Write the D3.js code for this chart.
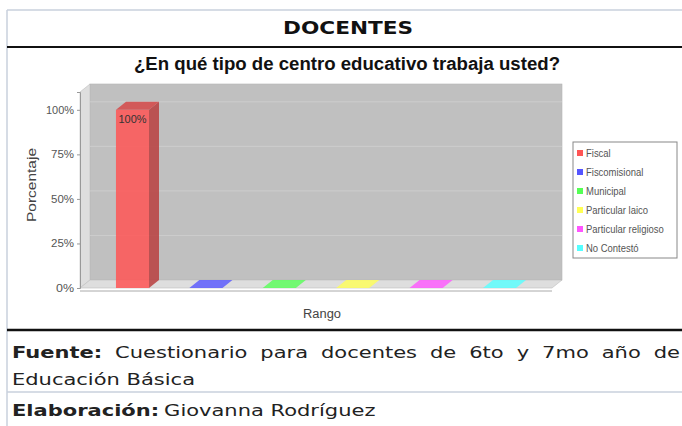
<!DOCTYPE html>
<html>
<head>
<meta charset="utf-8">
<script src="https://d3js.org/d3.v7.min.js"></script>
<style>
  body { margin: 0; background: #fff; }
  svg { display: block; }
</style>
</head>
<body>
<script>
const categories = ["Fiscal", "Fiscomisional", "Municipal", "Particular laico", "Particular religioso", "No Contestó"]
const values = [1, 0, 0, 0, 0, 0]
const colors = ["#ff5555", "#5555ff", "#55ff55", "#ffff55", "#ff55ff", "#55ffff"]
const yTicks = [0, 0.25, 0.5, 0.75, 1]
const fuenteWords = ["Cuestionario", "para", "docentes", "de", "6to", "y", "7mo", "año", "de"]

const width = 682
const height = 426
const dx = 10, dy = 8
const sans = "'Liberation Sans', Arial, sans-serif"
const foot = "'DejaVu Sans', sans-serif"

const svg = d3.select("body").append("svg")
    .attr("width", width)
    .attr("height", height)

// squeeze or stretch a text to a given width
function fit(t, w) {
    t.attr("textLength", w).attr("lengthAdjust", "spacingAndGlyphs")
}

// table frame
svg.append("line").attr("x1", 7).attr("x2", width).attr("y1", 10).attr("y2", 10)
    .attr("stroke", "#c8d0dc").attr("stroke-width", 1.5)
svg.append("line").attr("x1", 7).attr("x2", 7).attr("y1", 10).attr("y2", height)
    .attr("stroke", "#c8d0dc").attr("stroke-width", 1.5)

svg.append("text")
    .attr("x", 348).attr("y", 34)
    .attr("text-anchor", "middle")
    .attr("font-family", foot)
    .attr("font-weight", "bold")
    .attr("font-size", 18)
    .attr("fill", "#111")
    .text("DOCENTES")
    .call(fit, 130)

svg.append("line").attr("x1", 7).attr("x2", width).attr("y1", 47).attr("y2", 47)
    .attr("stroke", "#111").attr("stroke-width", 2)

// chart title
svg.append("text")
    .attr("x", 347).attr("y", 70)
    .attr("text-anchor", "middle")
    .attr("font-family", sans)
    .attr("font-weight", "bold")
    .attr("font-size", 18)
    .attr("fill", "#111")
    .text("¿En qué tipo de centro educativo trabaja usted?")
    .call(fit, 426)

// scales
const x = d3.scaleBand()
    .domain(categories)
    .range([80, 552])
    .paddingInner(0.55)
    .paddingOuter(0.49)

const y = d3.scaleLinear()
    .domain([0, 1.1])
    .range([288, 92])

const x0 = 80, x1 = 552, y0 = y(0), yTop = y(1.1)

// walls
svg.append("rect")
    .attr("x", x0 + dx).attr("y", yTop - dy)
    .attr("width", x1 - x0).attr("height", y0 - yTop)
    .attr("fill", "#c0c0c0")
    .attr("stroke", "#b4b4b4").attr("stroke-width", 0.6)

svg.append("polygon")
    .attr("points", [[x0, y0], [x0, yTop], [x0 + dx, yTop - dy], [x0 + dx, y0 - dy]].join(" "))
    .attr("fill", "#dedede")
    .attr("stroke", "#bdbdbd").attr("stroke-width", 0.6)

svg.append("polygon")
    .attr("points", [[x0, y0], [x1, y0], [x1 + dx, y0 - dy], [x0 + dx, y0 - dy]].join(" "))
    .attr("fill", "#dedede")
    .attr("stroke", "#bdbdbd").attr("stroke-width", 0.6)

// gridlines on back wall
svg.append("g").selectAll("line")
    .data(yTicks.filter(d => d > 0))
    .join("line")
    .attr("x1", x0 + dx).attr("x2", x1 + dx)
    .attr("y1", d => y(d) - dy).attr("y2", d => y(d) - dy)
    .attr("stroke", "#d0d0d0").attr("stroke-width", 0.8)

// y axis
const yAxis = svg.append("g")
    .attr("transform", `translate(${x0},0)`)
    .call(d3.axisLeft(y).tickValues(yTicks).tickFormat(d3.format(".0%")).tickSize(3).tickPadding(3))
yAxis.select(".domain").attr("stroke", "#999")
yAxis.selectAll(".tick line").attr("stroke", "#999")
yAxis.selectAll("text")
    .attr("font-family", sans)
    .attr("font-size", 11)
    .attr("fill", "#555")
    .each(function (d) { d3.select(this).call(fit, d === 1 ? 28 : (d === 0 ? 18 : 23)) })

svg.append("text")
    .attr("transform", `translate(36,${185}) rotate(-90)`)
    .attr("text-anchor", "middle")
    .attr("font-family", sans)
    .attr("font-size", 13)
    .attr("fill", "#444")
    .text("Porcentaje")
    .call(fit, 74)

// x axis line
svg.append("line").attr("x1", x0).attr("x2", x1).attr("y1", y0 + 3).attr("y2", y0 + 3)
    .attr("stroke", "#aaa").attr("stroke-width", 1)

svg.append("text")
    .attr("x", 322).attr("y", 318)
    .attr("text-anchor", "middle")
    .attr("font-family", sans)
    .attr("font-size", 12)
    .attr("fill", "#444")
    .text("Rango")
    .call(fit, 38)

// bars
const bars = svg.append("g").selectAll("g")
    .data(categories.map((c, i) => ({ c, v: values[i], color: colors[i] })))
    .join("g")

bars.each(function (d) {
    const g = d3.select(this)
    const bx = x(d.c), bw = x.bandwidth(), by = y(d.v)
    const base = d3.color(d.color)
    if (d.v > 0) {
        g.append("polygon")
            .attr("points", [[bx + bw, by], [bx + bw + dx, by - dy], [bx + bw + dx, y0 - dy], [bx + bw, y0]].join(" "))
            .attr("fill", base.darker(0.9).copy({ opacity: 0.85 }))
        g.append("rect")
            .attr("x", bx).attr("y", by).attr("width", bw).attr("height", y0 - by)
            .attr("fill", base.copy({ opacity: 0.85 }))
    }
    g.append("polygon")
        .attr("points", [[bx, by], [bx + dx, by - dy], [bx + bw + dx, by - dy], [bx + bw, by]].join(" "))
        .attr("fill", d.v > 0 ? base.darker(0.5).copy({ opacity: 0.85 }) : base.copy({ opacity: 0.8 }))
    if (d.v > 0) {
        g.append("text")
            .attr("x", bx + bw / 2).attr("y", by + 13)
            .attr("text-anchor", "middle")
            .attr("font-family", sans)
            .attr("font-size", 11)
            .attr("fill", "#333")
            .text(d3.format(".0%")(d.v))
            .call(fit, 28)
    }
})

// legend
const legend = svg.append("g").attr("transform", "translate(573,142)")
legend.append("rect")
    .attr("width", 104).attr("height", 116)
    .attr("fill", "#fff").attr("stroke", "#888").attr("stroke-width", 1)
const items = legend.selectAll("g.item")
    .data(categories)
    .join("g")
    .attr("class", "item")
    .attr("transform", (d, i) => `translate(4,${11 + i * 19})`)
items.append("rect")
    .attr("x", 0).attr("y", -3).attr("width", 6).attr("height", 6)
    .attr("fill", (d, i) => colors[i])
items.append("text")
    .attr("x", 9).attr("y", 4)
    .attr("font-family", sans)
    .attr("font-size", 11)
    .attr("fill", "#555")
    .text(d => d)
    .each(function () {
        const t = d3.select(this)
        t.call(fit, this.getComputedTextLength() * 0.86)
    })

// footer
svg.append("line").attr("x1", 7).attr("x2", width).attr("y1", 330).attr("y2", 330)
    .attr("stroke", "#111").attr("stroke-width", 2.5)

const footSize = 15
const stretch = 1.4

function footText(xp, yp, bold, txt) {
    const t = svg.append("text")
        .attr("x", xp).attr("y", yp)
        .attr("font-family", foot)
        .attr("font-size", footSize)
        .attr("font-weight", bold ? "bold" : null)
        .attr("fill", "#222")
        .text(txt)
    const w = t.node().getComputedTextLength() * stretch
    t.call(fit, w)
    return w
}

// "Fuente:" line is justified across the cell
const lineEnd = 680
const head = footText(12, 358, true, "Fuente:")
const widths = fuenteWords.map(w => {
    const t = svg.append("text").attr("font-family", foot).attr("font-size", footSize).text(w)
    const len = t.node().getComputedTextLength() * stretch
    t.remove()
    return len
})
const gap = (lineEnd - 12 - head - d3.sum(widths)) / fuenteWords.length
let cursor = 12 + head + gap
fuenteWords.forEach((w, i) => {
    footText(cursor, 358, false, w)
    cursor += widths[i] + gap
})

footText(12, 385, false, "Educación Básica")

svg.append("line").attr("x1", 7).attr("x2", width).attr("y1", 392).attr("y2", 392)
    .attr("stroke", "#c8d0dc").attr("stroke-width", 1.5)

const lab = footText(12, 416, true, "Elaboración:")
footText(12 + lab + 5, 416, false, "Giovanna Rodríguez")
</script>
</body>
</html>
